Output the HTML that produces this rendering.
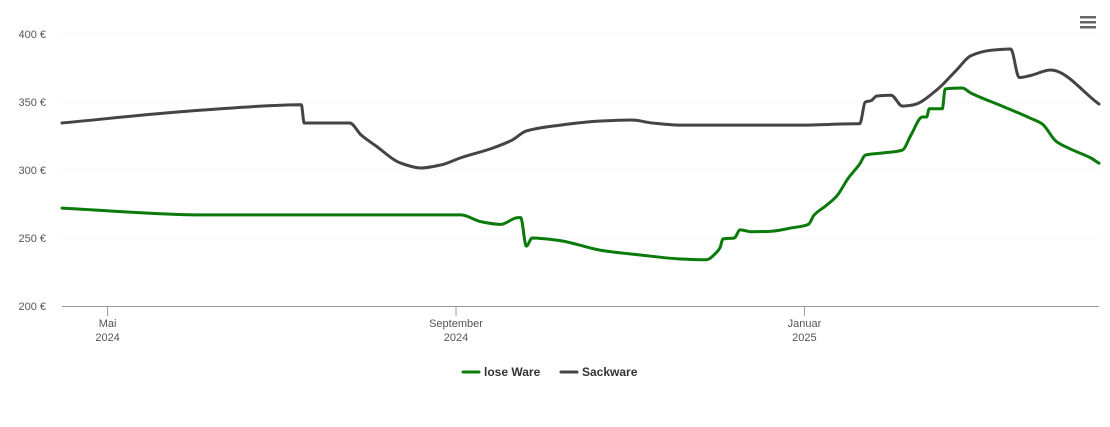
<!DOCTYPE html>
<html><head><meta charset="utf-8"><style>
body{margin:0;background:#fff;font-family:"Liberation Sans",sans-serif;}
svg text{font-family:"Liberation Sans",sans-serif;}
</style></head><body>
<svg id="chart" width="1110" height="422" viewBox="0 0 1110 422" xmlns="http://www.w3.org/2000/svg">
<g id="grid"></g>
<g id="yaxis"></g>
<g id="xaxis"></g>
<g id="series"></g>
<g>
<rect x="1080" y="16" width="16" height="2.5" fill="#666"/><rect x="1080" y="21" width="16" height="2.5" fill="#666"/><rect x="1080" y="26" width="16" height="2.5" fill="#666"/>
</g>
<g>
<g><line x1="463" y1="372" x2="479" y2="372" stroke="#0a7a0a" stroke-width="3" stroke-linecap="round"/><text x="484" y="376" font-size="12" font-weight="bold" fill="#333">lose Ware</text></g>
<g><line x1="561" y1="372" x2="577" y2="372" stroke="#444" stroke-width="3" stroke-linecap="round"/><text x="582" y="376" font-size="12" font-weight="bold" fill="#333">Sackware</text></g>
</g>
</svg>
<script>
// days since 2024-05-01
const yTicks=[200,250,300,350,400];
const xTickDays=[0,122.3,244.6];
const xTickLabels=[["Mai","2024"],["September","2024"],["Januar","2025"]];
const sackDays=[-16,33,68,69,85,89,94,103,110,117,124,135,142,147,159,173,184,191,201,243,263,264,266,268,270,275,279,283,291,298,303,310,317,320,324,331,348];
const sackVals=[334.6,344,348,334.6,334.6,325.7,318,305,301.5,303.7,309,316,322,328.7,333,336,336.8,334.6,333,333,334,334,350,351,354.4,355,347,348,358.8,373.5,384,388,389,368,369.5,373.5,348.5];
const loseDays=[-16,33,124,131,138,144,145,147,149,159,173,187,201,210,214,215,216,220,222,226,233,240,246,248,252,256,260,264,266,272,279,282,286,287.5,288.4,293,294,300,303,314,324,328,333,338,345,348];
const loseVals=[272,267,267,262,260,265,265,244,250,248,241,237.5,234.6,234,240,243,249.3,250,256,254.6,255,257.4,260,266.9,273.5,281,294,304.4,311,312.5,314.7,325.7,339,339,345,345,359.6,360.3,356.6,347,338,334,321,315.4,309,305];
const X0=62,X1=1099,D0=-16,D1=348;
const x=d=>X0+(d-D0)*(X1-X0)/(D1-D0);
const y=v=>306-(v-200)*272/200;
const NS="http://www.w3.org/2000/svg";
function mk(t,a,p){const e=document.createElementNS(NS,t);for(const k in a)e.setAttribute(k,a[k]);p.appendChild(e);return e;}
const grid=document.getElementById('grid'),ya=document.getElementById('yaxis'),xa=document.getElementById('xaxis'),ser=document.getElementById('series');
yTicks.forEach(v=>{
 if(v>200){const l=mk('line',{x1:X0,x2:X1,y1:y(v),y2:y(v),stroke:'#e6e6e6','stroke-width':1,'stroke-dasharray':'1,2'},grid);
 
 }
 const t=mk('text',{x:46,y:y(v)+4,'text-anchor':'end','font-size':11,fill:'#555'},ya);t.textContent=v+' €';
 
 
});
const ax=mk('line',{x1:X0,x2:X1,y1:306.5,y2:306.5,stroke:'#999','stroke-width':1},xa);


xTickDays.forEach((d,i)=>{
 const tk=mk('line',{x1:x(d),x2:x(d),y1:306,y2:316,stroke:'#999'},xa);
 
 
 xTickLabels[i].forEach((s,j)=>{const t=mk('text',{x:x(d),y:327+j*14,'text-anchor':'middle','font-size':11,fill:'#555'},xa);t.textContent=s;
 
 });
});
function monoPath(px,py){
 const n=px.length,dx=[],s=[],m=[];
 for(let i=0;i<n-1;i++){dx[i]=px[i+1]-px[i];s[i]=(py[i+1]-py[i])/dx[i];}
 m[0]=s[0];m[n-1]=s[n-2];
 for(let i=1;i<n-1;i++){m[i]=(s[i-1]*s[i]<=0)?0:3*(dx[i-1]+dx[i])/((2*dx[i]+dx[i-1])/s[i-1]+(dx[i]+2*dx[i-1])/s[i]);}
 let d='M'+px[0]+','+py[0];
 for(let i=0;i<n-1;i++){const h=dx[i]/3;d+=' C'+(px[i]+h)+','+(py[i]+m[i]*h)+' '+(px[i+1]-h)+','+(py[i+1]-m[i+1]*h)+' '+px[i+1]+','+py[i+1];}
 return d;
}
function line(days,vals,col,name){
 const p=mk('path',{d:monoPath(days.map(x),vals.map(y)),fill:'none',stroke:col,'stroke-width':3,'stroke-linejoin':'round','stroke-linecap':'round'},ser);
 
 
}
line(sackDays,sackVals,'#444','sackware-line');
line(loseDays,loseVals,'#0a7a0a','lose-ware-line');
</script>
</body></html>
